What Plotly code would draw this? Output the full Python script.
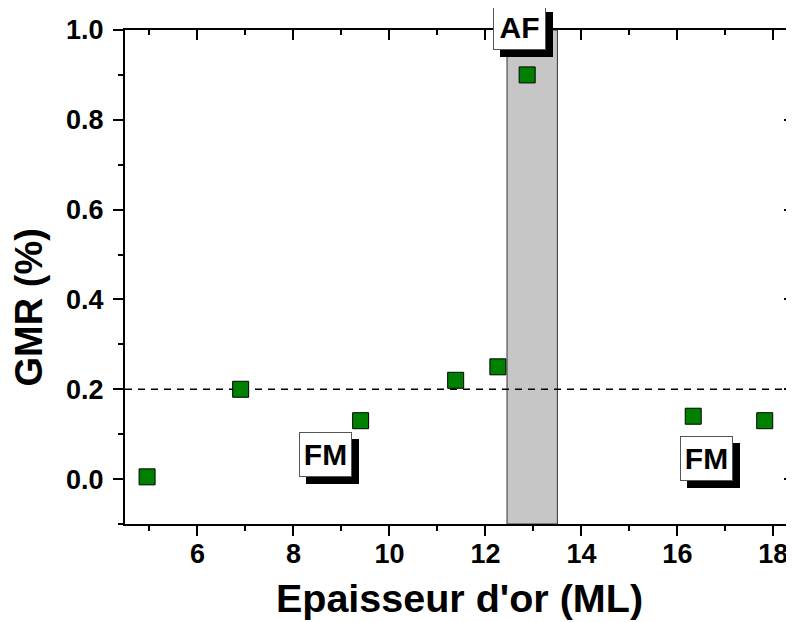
import plotly.graph_objects as go

# Data
thickness = [4.95, 6.9, 9.4, 11.38, 12.26, 12.87, 16.33, 17.82]
gmr = [0.005, 0.2, 0.13, 0.22, 0.25, 0.9, 0.14, 0.13]

af_band = [12.45, 13.5]
threshold = 0.2

labels = ["AF", "FM", "FM"]
label_x = [12.72, 8.66, 16.61]
label_y = [1.0, 0.055, 0.045]
label_yshift = [3, 0, 0]

x_range = [4.49, 18.43]
y_range = [-0.1, 1.0]

x_title = "Epaisseur d'or (ML)"
y_title = "GMR (%)"

FONT = "Liberation Sans, Arial, sans-serif"

fig = go.Figure()

fig.add_trace(go.Scatter(
    x=thickness, y=gmr, mode="markers",
    marker=dict(symbol="square", size=16, color="#008000",
                line=dict(color="black", width=1)),
    showlegend=False, hoverinfo="x+y",
))
# invisible trace for mirrored axes
fig.add_trace(go.Scatter(
    x=thickness, y=gmr, mode="markers", xaxis="x2", yaxis="y2",
    marker=dict(opacity=0), showlegend=False, hoverinfo="skip",
))

# AF band
fig.add_shape(type="rect", xref="x", yref="y",
              x0=af_band[0], x1=af_band[1], y0=y_range[0], y1=y_range[1],
              fillcolor="#c6c6c6", line=dict(color="#333333", width=1),
              layer="below")
# threshold dashed line
fig.add_shape(type="line", xref="x", yref="y",
              x0=x_range[0], x1=x_range[1], y0=threshold, y1=threshold,
              line=dict(color="black", width=1.5, dash="7px,6px"),
              layer="below")

for t, xv, yv, ys in zip(labels, label_x, label_y, label_yshift):
    # shadow
    fig.add_annotation(x=xv, y=yv, xref="x", yref="y", text=t,
                       showarrow=False, xshift=7, yshift=ys - 7,
                       font=dict(family=FONT, size=30, color="black", weight="bold"),
                       bgcolor="black", bordercolor="black", borderwidth=1,
                       borderpad=1, width=49, height=41)
    fig.add_annotation(x=xv, y=yv, xref="x", yref="y", text=t,
                       showarrow=False, yshift=ys,
                       font=dict(family=FONT, size=30, color="black", weight="bold"),
                       bgcolor="white", bordercolor="#555555", borderwidth=1,
                       borderpad=1, width=49, height=41)

# y-axis title (placed slightly below centre, as in the original)
fig.add_annotation(x=-0.143, y=0.439, xref="paper", yref="paper",
                   text=y_title, textangle=-90, showarrow=False,
                   xanchor="center", yanchor="middle",
                   font=dict(family=FONT, size=38, color="black", weight="bold"))

axis_common = dict(showgrid=False, zeroline=False, showline=True,
                   linecolor="black", linewidth=2, tickcolor="black",
                   tickwidth=2, ticklen=10, automargin=False)

# page body has an 8px margin: compensate in figure size / margins
fig.update_layout(
    width=786, height=614,
    margin=dict(l=117, r=0, t=22, b=98),
    paper_bgcolor="white", plot_bgcolor="white",
    font=dict(family=FONT, color="black"),
    xaxis=dict(range=x_range, dtick=2, tick0=0, ticks="outside",
               tickfont=dict(family=FONT, size=27, weight="bold"),
               ticklabelstandoff=-5,
               minor=dict(dtick=1, tick0=0, ticks="outside", ticklen=5,
                          tickwidth=2, tickcolor="black"),
               title=dict(text=x_title, standoff=16,
                          font=dict(family=FONT, size=39.5, weight="bold")),
               **axis_common),
    yaxis=dict(range=y_range, dtick=0.2, tick0=0, ticks="outside",
               tickformat=".1f", ticklabelstandoff=4,
               tickfont=dict(family=FONT, size=27, weight="bold"),
               minor=dict(dtick=0.1, tick0=0, ticks="outside", ticklen=5,
                          tickwidth=2, tickcolor="black"),
               **axis_common),
    xaxis2=dict(range=x_range, dtick=2, tick0=0, overlaying="x", side="top",
                ticks="inside", showticklabels=False,
                minor=dict(dtick=1, tick0=0, ticks="inside", ticklen=5,
                           tickwidth=2, tickcolor="black"),
                **axis_common),
    yaxis2=dict(range=y_range, dtick=0.2, tick0=0, overlaying="y", side="right",
                ticks="inside", showticklabels=False,
                minor=dict(dtick=0.1, tick0=0, ticks="inside", ticklen=5,
                           tickwidth=2, tickcolor="black"),
                **axis_common),
)

fig.write_html("out.html")
